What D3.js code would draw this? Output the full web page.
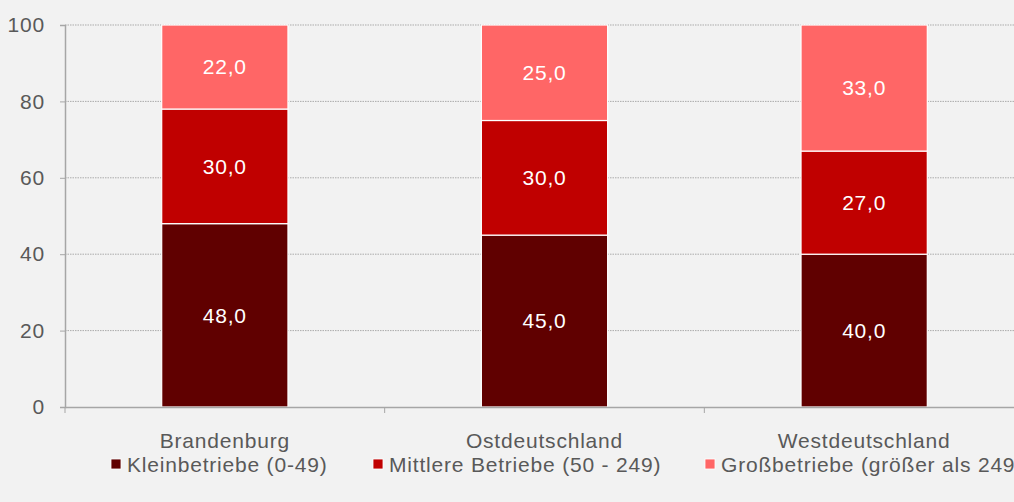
<!DOCTYPE html>
<html>
<head>
<meta charset="utf-8">
<script src="https://cdn.jsdelivr.net/npm/d3@7"></script>
<style>
  body { margin: 0; background: #f2f2f2; overflow: hidden; }
  svg { display: block; }
  svg text { font-family: "Liberation Sans", Arial, sans-serif; font-size: 21px; letter-spacing: 0.8px; }
</style>
</head>
<body>
<div id="chart"></div>
<script>
var regionen = ['Brandenburg', 'Ostdeutschland', 'Westdeutschland'];
var klein = [48, 45, 40];
var mittel = [30, 30, 27];
var gross = [22, 25, 33];
var serien = ['Kleinbetriebe (0-49)', 'Mittlere Betriebe (50 - 249)', 'Großbetriebe (größer als 249)'];
var farben = ['#600000', '#c00000', '#ff6666'];
var yTicks = [0, 20, 40, 60, 80, 100];

var width = 1014, height = 502;
var margin = { top: 25, right: -10, bottom: 95, left: 65 };
var innerW = width - margin.left - margin.right,
    innerH = height - margin.top - margin.bottom;

var svg = d3.select('#chart').append('svg')
    .attr('width', width)
    .attr('height', height);

svg.append('rect').attr('width', width).attr('height', height).attr('fill', '#f2f2f2');

var g = svg.append('g')
    .attr('transform', 'translate(' + margin.left + ',' + margin.top + ')');

var x = d3.scaleBand().domain(regionen).range([0, innerW]).paddingInner(0.605).paddingOuter(0.3025);
var y = d3.scaleLinear().domain([0, 100]).range([innerH, 0]);

// gridlines
g.selectAll('.grid').data(yTicks.filter(function (d) { return d > 0; })).enter()
    .append('line')
    .attr('x1', 0).attr('x2', innerW)
    .attr('y1', function (d) { return y(d); })
    .attr('y2', function (d) { return y(d); })
    .attr('stroke', '#ababab')
    .attr('stroke-width', 1)
    .attr('stroke-dasharray', '1.5,1');

var daten = regionen.map(function (r, i) {
    return { region: r, klein: klein[i], mittel: mittel[i], gross: gross[i] };
});
var stack = d3.stack().keys(['klein', 'mittel', 'gross'])(daten);

var layers = g.selectAll('.layer').data(stack).enter()
    .append('g')
    .attr('fill', function (d, i) { return farben[i]; });

layers.selectAll('rect').data(function (d) { return d; }).enter()
    .append('rect')
    .attr('x', function (d) { return x(d.data.region); })
    .attr('y', function (d) { return y(d[1]); })
    .attr('width', x.bandwidth())
    .attr('height', function (d) { return y(d[0]) - y(d[1]); })
    .attr('stroke', '#ffffff')
    .attr('stroke-width', 1.2);

layers.selectAll('text').data(function (d) { return d; }).enter()
    .append('text')
    .attr('x', function (d) { return x(d.data.region) + x.bandwidth() / 2; })
    .attr('y', function (d) { return (y(d[0]) + y(d[1])) / 2; })
    .attr('dy', '0.35em')
    .attr('text-anchor', 'middle')
    .attr('fill', '#ffffff')
    .text(function (d) { return d3.format('.1f')(d[1] - d[0]).replace('.', ','); });

// y axis
var yAxis = d3.axisLeft(y).tickValues(yTicks).tickSize(5).tickPadding(15);
var ya = g.append('g').call(yAxis);
ya.select('.domain').attr('stroke', '#a6a6a6').attr('stroke-width', 1.5);
ya.selectAll('.tick line').attr('stroke', '#a6a6a6');
ya.selectAll('.tick text').attr('fill', '#595959');

// x axis
var xa = g.append('g').attr('transform', 'translate(0,' + innerH + ')')
    .call(d3.axisBottom(x).tickSize(0).tickPadding(26));
xa.select('.domain').attr('stroke', '#a6a6a6').attr('stroke-width', 1.5);
xa.selectAll('.tick text').attr('fill', '#595959');

var step = x.step();
g.selectAll('.sep').data(d3.range(regionen.length + 1)).enter()
    .append('line')
    .attr('x1', function (i) { return i * step; })
    .attr('x2', function (i) { return i * step; })
    .attr('y1', innerH).attr('y2', innerH + 6)
    .attr('stroke', '#a6a6a6');

// legend
var legX = [111, 373, 705];
var legend = svg.selectAll('.leg').data(serien).enter()
    .append('g')
    .attr('transform', function (d, i) { return 'translate(' + legX[i] + ',465)'; });
legend.append('rect')
    .attr('x', 0).attr('y', -6)
    .attr('width', 10).attr('height', 10)
    .attr('fill', function (d, i) { return farben[i]; })
    .attr('stroke', '#ffffff').attr('stroke-width', 0.8);
legend.append('text')
    .attr('x', 16).attr('y', 0)
    .attr('dy', '0.35em')
    .attr('fill', '#595959')
    .text(function (d) { return d; });
</script>
</body>
</html>
